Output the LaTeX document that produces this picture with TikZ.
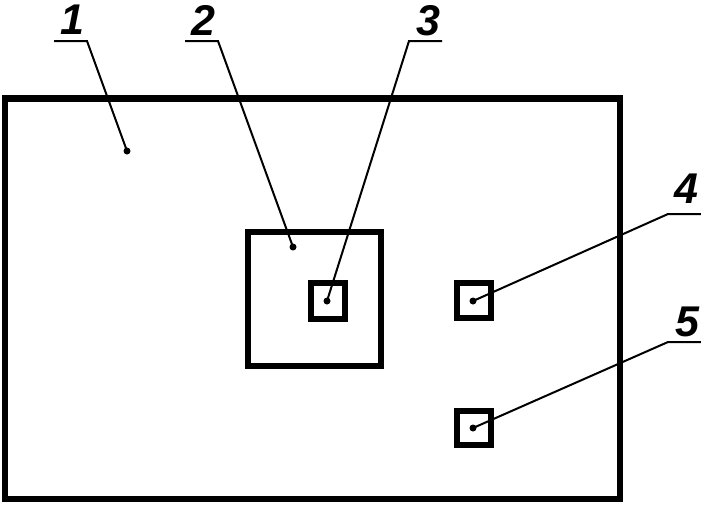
\documentclass[tikz,border=0pt]{standalone}
\usepackage{fontspec}
\setmainfont{Liberation Sans}
\begin{document}
\begin{tikzpicture}[x=1pt,y=-1pt,
  frame/.style={draw,line width=6.5pt,inner sep=0pt,outer sep=0pt},
  sq/.style={draw,line width=6pt,inner sep=0pt,outer sep=0pt},
  leader/.style={line width=2pt},
  dotmark/.style={fill,circle,inner sep=0pt,minimum size=7pt},
  num/.style={anchor=base,inner sep=0pt,font=\bfseries\itshape\fontsize{43}{43}\selectfont}]
\useasboundingbox (0,0) rectangle (701,504);
% bodies
\node[frame,minimum width=615pt,minimum height=400.5pt] (body) at (312.5,298.75) {};
\node[sq,minimum width=133pt,minimum height=134.5pt] (sq2) at (314.5,298.75) {};
\node[sq,minimum width=34pt,minimum height=35.5pt] (sq3) at (328,300.75) {};
\node[sq,minimum width=34pt,minimum height=35pt] (sq4) at (474,300.5) {};
\node[sq,minimum width=34pt,minimum height=34pt] (sq5) at (474,428) {};
% dots
\node[dotmark] (d1) at (127,151) {};
\node[dotmark] (d2) at (293,247) {};
\node[dotmark] (d3) at (327,301) {};
\node[dotmark] (d4) at (473,301) {};
\node[dotmark] (d5) at (473,428) {};
% labels
\node[num] (l1) at (72,34) {1};
\node[num] (l2) at (203,35) {2};
\node[num] (l3) at (428,35) {3};
\node[num] (l4) at (686,203) {4};
\node[num] (l5) at (687,336) {5};
% leader coordinates
\coordinate (u1) at (54,41);  \coordinate (k1) at (87,41);
\coordinate (u2) at (185,41); \coordinate (k2) at (218,41);
\coordinate (u3) at (442,41); \coordinate (k3) at (409,41);
\coordinate (u4) at (701,214); \coordinate (k4) at (668,214);
\coordinate (u5) at (701,342); \coordinate (k5) at (668,342);
\draw[leader] (u1) -- (k1) -- (d1.center);
\draw[leader] (u2) -- (k2) -- (d2.center);
\draw[leader] (u3) -- (k3) -- (d3.center);
\draw[leader] (u4) -- (k4) -- (d4.center);
\draw[leader] (u5) -- (k5) -- (d5.center);
\end{tikzpicture}
\end{document}
